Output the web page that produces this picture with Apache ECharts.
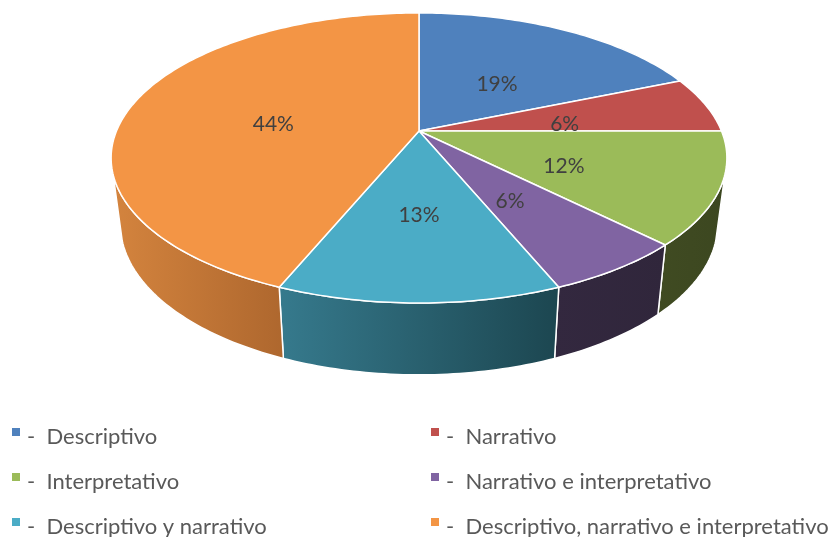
<!DOCTYPE html>
<html>
<head>
<meta charset="utf-8">
<style>
html,body{margin:0;padding:0;background:#fff;}
#chart{width:836px;height:537px;}
</style>
<script src="https://cdn.jsdelivr.net/npm/echarts@6/dist/echarts.min.js"></script>
</head>
<body>
<div id="chart"></div>
<script>
var categories = ['Descriptivo','Narrativo','Interpretativo','Narrativo e interpretativo','Descriptivo y narrativo','Descriptivo, narrativo e interpretativo'];
var shares = [18.75,6.25,12.5,6.25,12.5,43.75];
var percentLabels = ['19%','6%','12%','6%','13%','44%'];

var colors = ['#4F81BD','#C0504D','#9BBB59','#8064A2','#4BACC6','#F39545'];
// shading of the outer wall, left to right
var wallColors = [null,null,['#404B22','#3C4720'],['#33283F','#30263B'],['#367A8D','#1C4650'],['#D4843E','#AE672E']];

// projection of the tilted disc
var cx = 419, cy = 131, radius = 302.5, tilt = 140, persp = 0.186;
var wallRadius = radius * 0.97, wallTilt = tilt * 1.04, wallDrop = 65;
var wallFrom = 107, wallTo = 253;

function project(deg, f, r, t, drop){
    var a = deg * Math.PI / 180;
    var w = 1 + persp * f * Math.cos(a);
    return [cx + r * f * Math.sin(a) / w, cy + drop - t * f * Math.cos(a) / w];
}
function arc(from, to, r, t, drop){
    var pts = [], n = Math.max(2, Math.ceil(Math.abs(to - from)));
    for (var i = 0; i <= n; i++) {
        pts.push(project(from + (to - from) * i / n, 1, r, t, drop));
    }
    return pts;
}

function renderSlice(params, api){
    var from = api.value(0) * 3.6, to = api.value(1) * 3.6;
    var i = params.seriesIndex;
    var children = [];
    var a = Math.max(from, wallFrom), b = Math.min(to, wallTo);
    if (wallColors[i] && b > a) {
        var wall = arc(a, b, radius, tilt, 0).concat(arc(b, a, wallRadius, wallTilt, wallDrop));
        children.push({
            type: 'polygon',
            shape: {points: wall},
            style: {
                fill: new echarts.graphic.LinearGradient(0, 0, 1, 0, [
                    {offset: 0, color: wallColors[i][0]},
                    {offset: 1, color: wallColors[i][1]}
                ]),
                stroke: '#fff',
                lineWidth: 1.5
            }
        });
    }
    children.push({
        type: 'polygon',
        shape: {points: [[cx, cy]].concat(arc(from, to, radius, tilt, 0))},
        style: {fill: colors[i], stroke: '#fff', lineWidth: 1.5, lineJoin: 'round'}
    });
    return {type: 'group', children: children};
}

function renderLabel(params, api){
    var mid = (api.value(0) + api.value(1)) / 2 * 3.6;
    var p = project(mid, 0.5, radius, tilt, 7);
    return {
        type: 'text',
        style: {
            x: p[0], y: p[1],
            text: percentLabels[params.dataIndex],
            align: 'center', verticalAlign: 'middle',
            font: '21px Lato', fill: '#404040'
        }
    };
}

var series = [], labelRows = [], sum = 0;
categories.forEach(function(name, i){
    var row = [sum, sum + shares[i]];
    sum += shares[i];
    labelRows.push(row);
    series.push({
        type: 'custom',
        name: name,
        coordinateSystem: 'none',
        renderItem: renderSlice,
        itemStyle: {color: colors[i]},
        silent: true,
        data: [row]
    });
});
series.push({
    type: 'custom',
    name: 'etiquetas',
    coordinateSystem: 'none',
    renderItem: renderLabel,
    silent: true,
    z: 5,
    data: labelRows
});

function legendColumn(names, left){
    return {
        orient: 'vertical',
        left: left,
        top: 426,
        height: 140,
        padding: 0,
        itemWidth: 8,
        itemHeight: 18,
        itemGap: 23,
        // square sits in the upper part of the symbol box, the text is centred lower
        icon: 'path://M0 0H8V8H0Z M0 18H8Z',
        selectedMode: false,
        data: names,
        formatter: '-  {name}',
        textStyle: {fontFamily: 'Lato', fontSize: 22, color: '#595959', padding: [0, 0, 0, 2]}
    };
}

var chart = echarts.init(document.getElementById('chart'));
chart.setOption({
    animation: false,
    legend: [
        legendColumn([categories[0], categories[2], categories[4]], 12),
        legendColumn([categories[1], categories[3], categories[5]], 431)
    ],
    series: series
});
</script>
</body>
</html>
